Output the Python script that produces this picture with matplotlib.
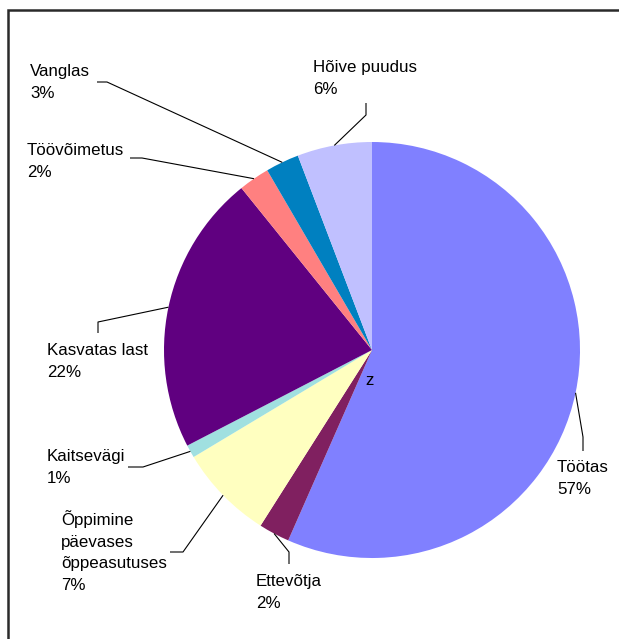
import numpy as np
import matplotlib.pyplot as plt

# data (clockwise from 12 o'clock)
labels = ["Töötas", "Ettevõtja", "Õppimine\npäevases\nõppeasutuses", "Kaitsevägi",
          "Kasvatas last", "Töövõimetus", "Vanglas", "Hõive puudus"]
values = [56.6, 2.4, 7.4, 1.0, 21.8, 2.4, 2.6, 5.8]
pct_labels = ["57%", "2%", "7%", "1%", "22%", "2%", "3%", "6%"]
colors = ["#8080FF", "#802060", "#FFFFC0", "#A0E0E0",
          "#600080", "#FF8080", "#0080C0", "#C0C0FF"]

# layout in pixel coords (y down)
W, H = 619, 639
center = (372, 350)
radius = 208
# text x, first baseline y
text_pos = [(557, 472), (256, 586), (61, 525), (47, 461),
            (47, 355), (27, 155), (30, 76), (313, 72)]
# leader lines: (outer end, elbow), then on to the wedge
elbows = [((583, 451), (583, 437)), ((289, 564), (289, 552)),
          ((170, 552), (183, 552)), ((128, 467), (143, 467)),
          ((98, 333), (98, 322)), ((130, 158), (142, 158)),
          ((97, 82), (107, 82)), ((366, 103), (366, 115))]
line_h = 21.6

plt.rcParams['font.family'] = ['Liberation Sans', 'DejaVu Sans']
fig = plt.figure(figsize=(W / 100, H / 100), dpi=100)
ax = fig.add_axes([0, 0, 1, 1])

wedges, _ = ax.pie(values, colors=colors, startangle=-90, counterclock=True,
                   center=center, radius=radius,
                   wedgeprops=dict(linewidth=0, antialiased=True))
ax.set_xlim(0, W)
ax.set_ylim(H, 0)
ax.set_aspect('equal')
ax.axis('off')

for i, w in enumerate(wedges):
    mid = np.deg2rad((w.theta1 + w.theta2) / 2)
    px = center[0] + radius * np.cos(mid)
    py = center[1] + radius * np.sin(mid)
    (ox, oy), (ex, ey) = elbows[i]
    ax.plot([ox, ex, px], [oy, ey, py], color='black', lw=0.8,
            solid_capstyle='butt')
    tx, ty = text_pos[i]
    lines = labels[i].split("\n") + [pct_labels[i]]
    for k, s in enumerate(lines):
        ax.text(tx, ty + k * line_h, s, fontsize=12.2, ha='left',
                va='baseline', color='black')

ax.text(370, 385, "z", fontsize=12.2, ha='center', va='baseline')

# frame (only top and left visible)
ax.plot([8, 8, W], [H, 10, 10], color='#2a2a2a', lw=1.8,
        solid_joinstyle='miter', clip_on=False)

fig.savefig('out.png', dpi=100)
